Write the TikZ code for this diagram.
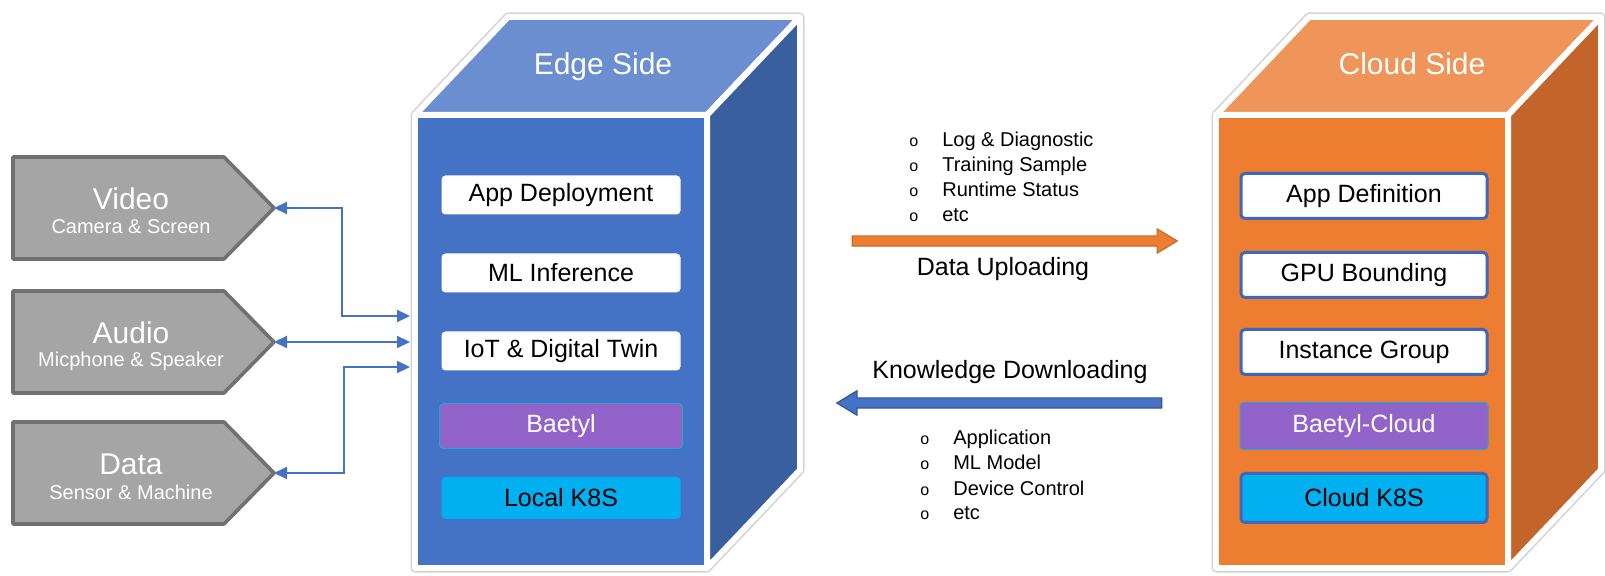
\documentclass[tikz,border=0pt]{standalone}
\usepackage{fontspec}
\setmainfont{Liberation Sans}
\usetikzlibrary{arrows.meta,shapes.arrows}
\pgfdeclarelayer{background}
\pgfsetlayers{background,main}
\definecolor{EdgeBlue}{HTML}{4472C4}
\definecolor{EdgeTop}{HTML}{6B8ED0}
\definecolor{EdgeDark}{HTML}{3A5F9F}
\definecolor{CloudOrange}{HTML}{ED7D31}
\definecolor{CloudTop}{HTML}{F0955A}
\definecolor{CloudDark}{HTML}{C3652A}
\definecolor{SrcGray}{HTML}{A5A5A5}
\definecolor{SrcLine}{HTML}{717171}
\definecolor{BaetylPurple}{HTML}{9263C9}
\definecolor{KCyan}{HTML}{00B0F0}
\definecolor{BoxRim}{HTML}{3F69B8}
\tikzset{
  face/.style={draw=white, line width=3pt, line join=round},
  halo/.style={draw=black!18, line width=4.5pt, line join=round},
  frontface/.style={rectangle, face, inner sep=0pt, outer sep=0pt,
    minimum width=146pt, minimum height=226.5pt},
  sidetitle/.style={text=white, font=\fontsize{15}{18}\selectfont},
  layerbox/.style={rectangle, rounded corners=2pt, inner sep=0pt,
    font=\fontsize{12.5}{15}\selectfont},
  edgebox/.style={layerbox, fill=white, minimum width=119.5pt, minimum height=19.5pt},
  cloudbox/.style={layerbox, fill=white, draw=BoxRim, line width=1.5pt,
    minimum width=123pt, minimum height=22.5pt},
  baetylbox/.style={layerbox, fill=BaetylPurple, draw=BoxRim!60!cyan, line width=0.5pt,
    text=white, minimum height=22.5pt},
  k8sbox/.style={layerbox, fill=KCyan},
  srcshape/.style={draw=SrcLine, fill=SrcGray, line width=1.8pt, line join=round},
  srctitle/.style={text=white, font=\fontsize{15}{18}\selectfont},
  srcsub/.style={text=white, font=\fontsize{10}{12}\selectfont},
  link/.style={draw=EdgeBlue, line width=1pt, <->,
    >={Triangle[length=6.5pt,width=6pt]}, shorten >=2.5pt},
  blockarrow/.style={single arrow, inner xsep=0pt, inner ysep=2.25pt,
    single arrow head extend=3.5pt, single arrow tip angle=62,
    minimum height=162.5pt, line width=0.6pt},
  flowlabel/.style={font=\fontsize{12.5}{15}\selectfont},
  itemlist/.style={anchor=west, inner sep=0pt, font=\fontsize{10}{12.5}\selectfont}
}
\newcommand{\bul}{{\fontsize{8}{10}\selectfont o}}
\begin{document}
\begin{tikzpicture}[x=0.5pt, y=-0.5pt]
\useasboundingbox (0,0) rectangle (1605,576);
%
% edge side cube
\node[frontface, fill=EdgeBlue] (edgefront) at (561,341.5) {};
\draw[face, fill=EdgeTop] (edgefront.north west) -- ++(93,-98) -- ++(292,0) -- (edgefront.north east) -- cycle;
\draw[face, fill=EdgeDark] (edgefront.north east) -- ++(93,-98) -- ++(0,453) -- (edgefront.south east) -- cycle;
\begin{pgfonlayer}{background}
\draw[halo] (edgefront.south west) -- (edgefront.north west) -- ++(93,-98) -- ++(292,0) -- ++(0,453) -- (edgefront.south east) -- cycle;
\end{pgfonlayer}
\node[sidetitle] (edgetitle) at (603,67) {Edge Side};
\foreach \y/\nm/\txt in {195/edgeapp/App Deployment, 273/edgeml/ML Inference, 351/edgeiot/IoT \& Digital Twin}
  \node[edgebox] (\nm) at (561,\y) {\txt};
\node[baetylbox, minimum width=121.5pt] (baetyl) at (561,426) {Baetyl};
\node[k8sbox, minimum width=119.5pt, minimum height=21pt] (localk8s) at (561,498) {Local K8S};
%
% cloud side cube
\node[frontface, fill=CloudOrange] (cloudfront) at (1362,341.5) {};
\draw[face, fill=CloudTop] (cloudfront.north west) -- ++(93,-98) -- ++(292,0) -- (cloudfront.north east) -- cycle;
\draw[face, fill=CloudDark] (cloudfront.north east) -- ++(93,-98) -- ++(0,453) -- (cloudfront.south east) -- cycle;
\begin{pgfonlayer}{background}
\draw[halo] (cloudfront.south west) -- (cloudfront.north west) -- ++(93,-98) -- ++(292,0) -- ++(0,453) -- (cloudfront.south east) -- cycle;
\end{pgfonlayer}
\node[sidetitle] (cloudtitle) at (1412,64) {Cloud Side};
\foreach \y/\nm/\txt in {196/cloudapp/App Definition, 275/cloudgpu/GPU Bounding, 352/cloudgroup/Instance Group}
  \node[cloudbox] (\nm) at (1364,\y) {\txt};
\node[baetylbox, minimum width=124pt, minimum height=23.5pt] (baetylcloud) at (1364,426) {Baetyl-Cloud};
\node[k8sbox, draw=BoxRim, line width=1.5pt, minimum width=123pt, minimum height=24.5pt] (cloudk8s) at (1364,498) {Cloud K8S};
%
% devices
\foreach \y/\nm/\ttl/\desc in {208/video/Video/Camera \& Screen, 342/audio/Audio/Micphone \& Speaker, 473/data/Data/Sensor \& Machine}{
  \draw[srcshape] (13,\y-51) -- (224,\y-51) -- (274,\y) -- (224,\y+51) -- (13,\y+51) -- cycle;
  \coordinate (\nm tip) at (274,\y);
  \node[srctitle] (\nm) at (131,\y-9) {\ttl};
  \node[srcsub] (\nm sub) at (131,\y+19) {\desc};
}
\draw[link] (videotip) -- ++(68,0) |- (edgefront.west |- 0,316);
\draw[link] (audiotip) -- (edgefront.west |- 0,342);
\draw[link] (datatip) -- ++(70,0) |- (edgefront.west |- 0,367);
%
% data flow
\node[blockarrow, fill=CloudOrange, draw=CloudOrange!85!black] (upload) at (1010.5,241) {};
\node[blockarrow, shape border rotate=180, fill=EdgeBlue, draw=EdgeBlue!75!black] (download) at (1003.5,403) {};
\node[flowlabel] (uplabel) at (1003,269) {Data Uploading};
\node[flowlabel] (downlabel) at (1010,372) {Knowledge Downloading};
\node[itemlist] (uplist) at (909,179) {\begin{tabular}{@{}l@{\hspace{12pt}}l@{}}
\bul & Log \& Diagnostic\\ \bul & Training Sample\\ \bul & Runtime Status\\ \bul & etc
\end{tabular}};
\node[itemlist] (downlist) at (920,477.5) {\begin{tabular}{@{}l@{\hspace{12pt}}l@{}}
\bul & Application\\ \bul & ML Model\\ \bul & Device Control\\ \bul & etc
\end{tabular}};
\end{tikzpicture}
\end{document}
